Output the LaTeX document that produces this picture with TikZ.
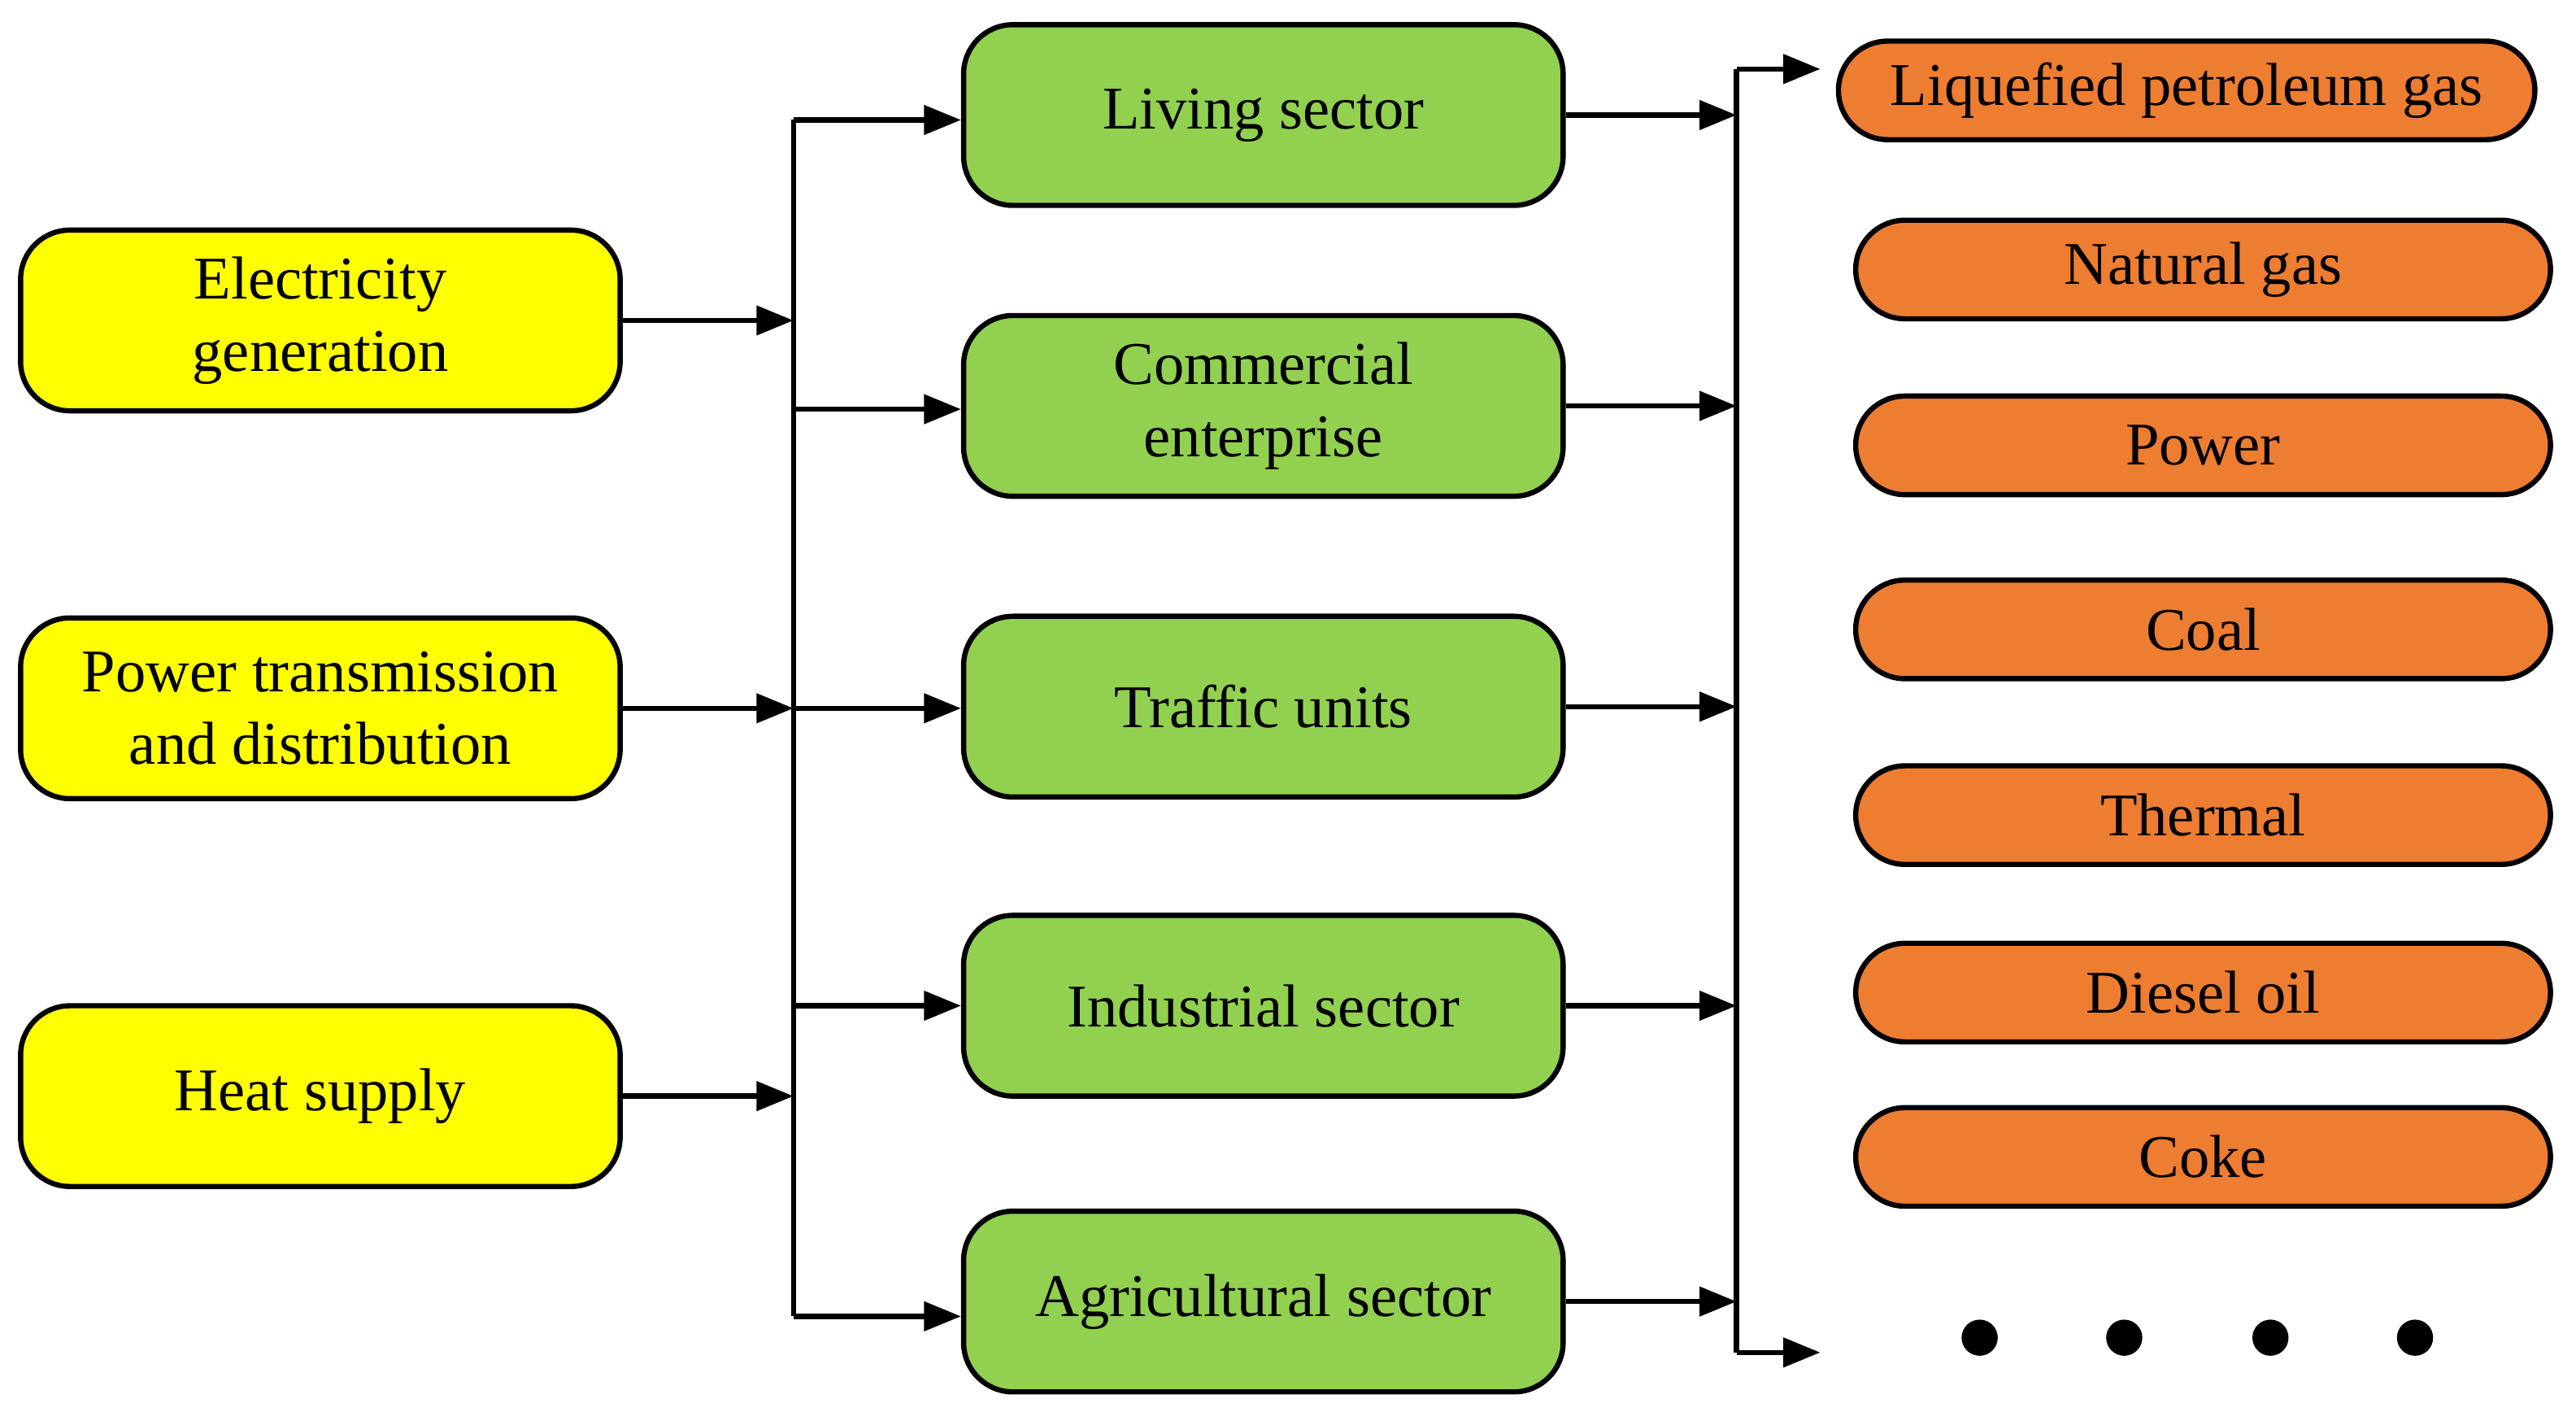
\documentclass[tikz,border=0pt]{standalone}
\usepackage{fontspec}
\setmainfont{Liberation Serif}
\usetikzlibrary{arrows.meta}
\begin{document}
\begin{tikzpicture}[x=0.02cm,y=-0.02cm,
 box/.style={draw=black,line width=1.8pt,rounded corners=0.6cm,font=\fontsize{21}{25}\selectfont,align=center,inner sep=0pt},
 yb/.style={box,fill={rgb,255:red,255;green,255;blue,0},minimum width=7.3cm,minimum height=2.2cm},
 gb/.style={box,fill={rgb,255:red,146;green,208;blue,80},minimum width=7.3cm,minimum height=2.2cm},
 ob/.style={box,fill={rgb,255:red,237;green,125;blue,49},minimum width=8.46cm,minimum height=1.2cm},
 ln/.style={line width=1.8pt},
 ar/.style={ln,-{Triangle[length=0.45cm,width=0.35cm]}}]
\useasboundingbox (0,0) rectangle (1568,859);
\node[yb] (e) at (195,195) {Electricity\\generation};
\node[yb] (p) at (195,431) {Power transmission\\and distribution};
\node[yb] (h) at (195,667) {Heat supply};
\node[gb] (g1) at (769,70) {Living sector};
\node[gb] (g2) at (769,247) {Commercial\\enterprise};
\node[gb] (g3) at (769,430) {Traffic units};
\node[gb] (g4) at (769,612) {Industrial sector};
\node[gb] (g5) at (769,792) {Agricultural sector};
\node[ob,minimum width=8.48cm] (o1) at (1331,55) {Liquefied petroleum gas};
\node[ob] (o2) at (1341,164) {Natural gas};
\node[ob] (o3) at (1341,271) {Power};
\node[ob] (o4) at (1341,383) {Coal};
\node[ob] (o5) at (1341,496) {Thermal};
\node[ob] (o6) at (1341,604) {Diesel oil};
\node[ob] (o7) at (1341,704) {Coke};
\foreach \x [count=\i] in {1205,1293,1382,1470} \fill (\x,814) circle (0.22cm) node (d\i) {};
% left bus
\coordinate (lt) at (483,73); \coordinate (lb) at (483,801);
\draw[ln] (lt) -- (lb);
\coordinate (le) at (483,195); \coordinate (lp) at (483,431); \coordinate (lh) at (483,667);
\draw[ar] (e.east) -- (le);
\draw[ar] (p.east) -- (lp);
\draw[ar] (h.east) -- (lh);
\draw[ar] (lt) -- (g1.west|-lt);
\coordinate (l2) at (483,249); \draw[ar] (l2) -- (g2.west|-l2);
\draw[ar] (lp) -- (g3.west|-lp);
\coordinate (l4) at (483,612); \draw[ar] (l4) -- (g4.west|-l4);
\draw[ar] (lb) -- (g5.west|-lb);
% right bus
\coordinate (rt) at (1057,42); \coordinate (rb) at (1057,823);
\draw[ln] (rt) -- (rb);
\foreach \g in {g1,g2,g3,g4,g5} \draw[ar] (\g.east) -- (\g.east-|rt);
\coordinate (rte) at (1108,42); \coordinate (rbe) at (1108,823);
\draw[ar] (rt) -- (rte);
\draw[ar] (rb) -- (rbe);
\end{tikzpicture}
\end{document}
